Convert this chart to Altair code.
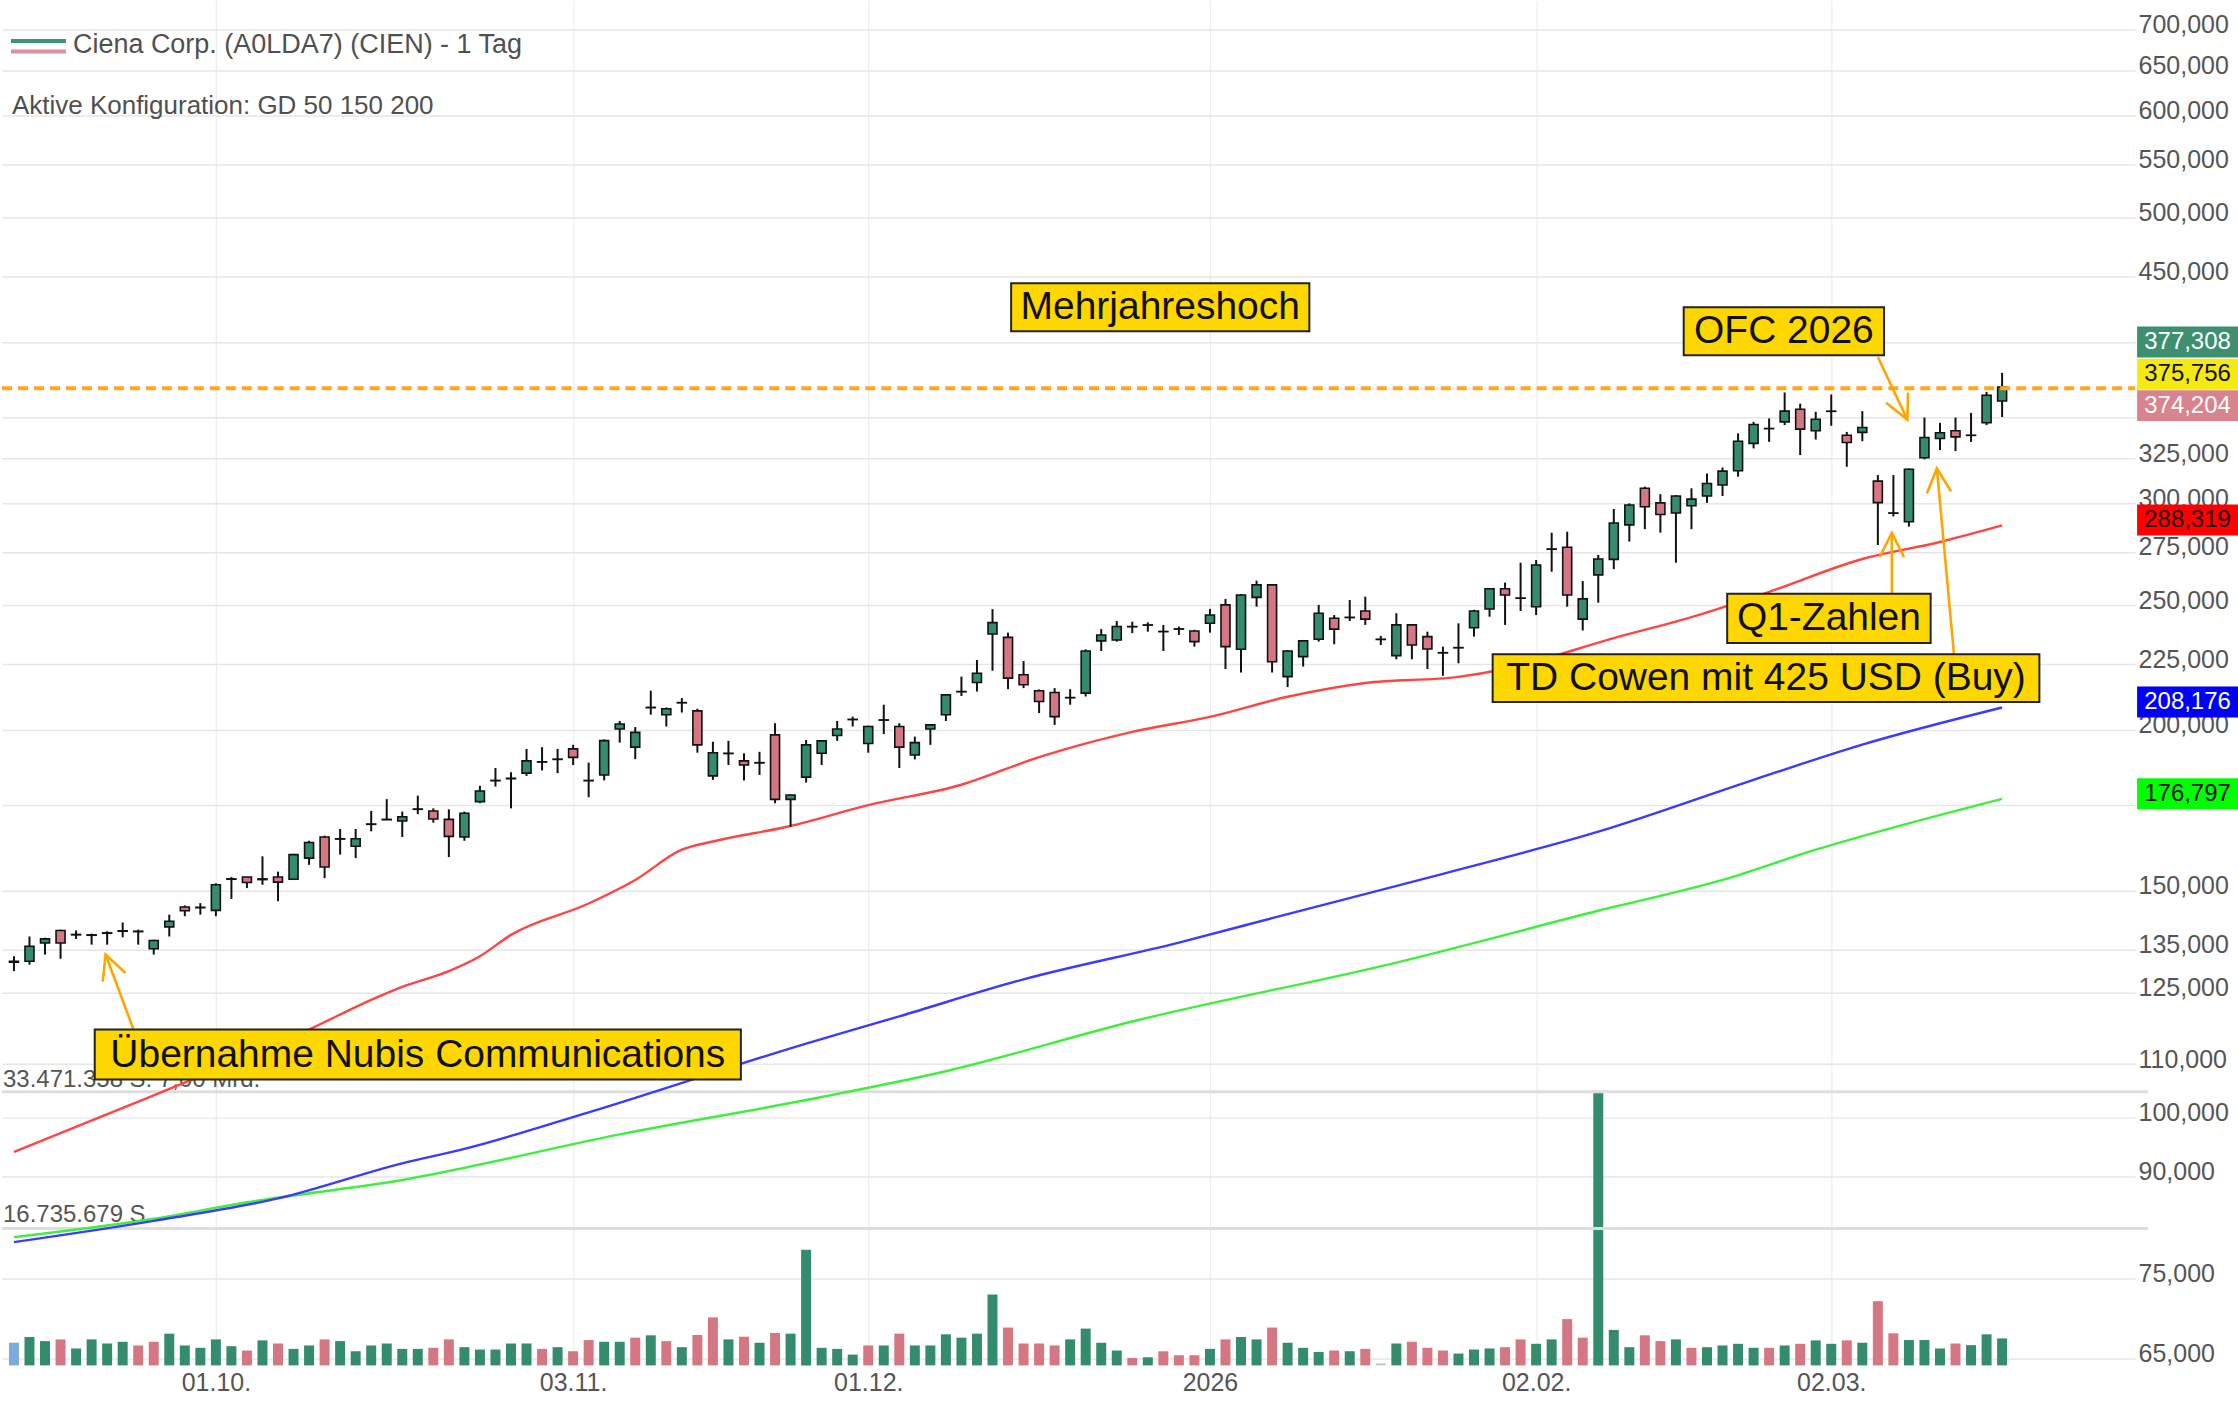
import math
import altair as alt
import pandas as pd

FONT = "Liberation Sans"
W, H = 2135, 1366

# ---------------- data ----------------
open_ = [132.0,132.2,136.6,139.7,138.6,138.5,139.0,139.5,139.5,135.2,
140.6,145.7,145.5,144.8,153.1,153.7,153.0,153.7,153.1,159.0,
165.1,164.5,162.4,168.9,170.3,169.9,173.5,173.0,170.4,165.1,
175.9,182.6,183.3,185.1,188.8,189.7,193.3,182.6,184.5,200.3,
193.9,208.1,205.5,209.9,206.9,184.2,191.7,189.2,188.5,198.2,
176.6,183.8,191.8,198.0,203.7,195.2,203.5,201.2,191.2,200.3,
205.5,214.1,217.7,237.4,236.0,220.7,214.5,213.8,211.8,213.6,
234.5,234.9,240.5,241.2,238.5,239.5,238.7,242.0,250.1,231.0,
253.5,259.2,220.0,228.0,235.2,244.2,244.5,247.4,235.1,228.4,
241.3,236.3,229.5,231.6,240.1,248.3,257.4,253.1,249.3,276.3,
277.3,243.8,263.9,271.3,288.6,308.1,300.2,294.8,298.6,303.9,
309.9,317.9,333.9,342.8,347.0,354.9,341.5,353.6,338.8,340.5,
312.1,294.7,290.2,325.4,336.8,341.5,338.7,346.4,360.2]

high = [133.4,138.2,137.9,139.9,139.7,138.9,139.5,141.7,139.9,137.4,
143.7,146.1,146.7,152.0,153.7,153.8,159.5,155.2,160.2,164.0,
165.5,167.5,167.5,173.0,176.7,172.8,177.8,173.8,173.5,172.8,
181.0,186.8,185.4,193.3,193.9,193.3,194.7,188.6,196.6,203.2,
201.0,214.5,208.2,211.7,207.7,195.8,196.1,191.8,192.3,202.4,
178.2,196.4,196.4,203.2,204.8,201.5,209.2,202.4,197.6,202.0,
213.2,220.0,226.6,248.2,238.0,226.2,215.0,215.5,215.1,231.0,
239.5,243.0,242.7,242.4,241.3,240.6,239.2,248.3,252.8,255.0,
261.2,259.5,230.7,234.9,250.1,245.6,252.3,253.8,236.6,246.4,
241.6,238.4,232.1,242.0,247.9,257.7,260.3,269.7,271.0,284.6,
285.1,261.0,273.5,296.9,299.9,309.0,304.9,304.3,308.1,316.4,
319.8,339.9,347.0,349.1,365.7,358.5,353.3,364.4,340.8,353.7,
315.5,315.5,319.2,349.7,346.4,349.7,352.6,366.1,378.8]

low = [129.9,131.4,133.8,132.8,137.6,136.2,136.2,138.0,136.2,133.8,
138.2,143.3,143.7,143.3,147.8,150.7,151.6,147.2,152.9,157.1,
153.4,160.0,159.0,166.8,170.2,165.1,172.0,169.4,159.3,164.0,
175.4,180.7,173.8,184.2,186.0,185.1,187.8,177.3,182.7,195.5,
189.8,205.5,201.2,206.3,192.0,182.9,187.8,182.7,184.5,175.4,
168.2,182.0,187.8,196.1,201.2,192.0,198.5,186.8,189.7,194.7,
203.2,212.5,214.2,222.3,215.1,215.5,206.1,201.8,209.2,212.3,
230.3,234.2,237.8,238.4,230.3,237.0,232.1,238.0,223.0,221.6,
249.3,221.6,215.9,224.0,234.2,233.1,243.0,241.3,232.8,226.9,
226.9,223.0,220.3,225.3,236.3,244.9,241.3,247.4,245.6,265.4,
249.3,238.9,251.1,266.6,280.1,286.4,284.6,269.7,286.4,300.2,
303.9,314.6,330.9,334.8,345.0,327.0,336.2,344.6,320.2,335.2,
278.4,293.0,287.7,324.5,329.9,329.3,334.8,345.0,350.0]

close = [132.2,135.8,137.6,136.6,138.7,138.6,139.1,139.6,139.4,137.2,
142.0,144.7,145.6,151.6,153.2,152.2,153.2,152.3,160.0,163.5,
156.5,164.6,164.6,169.0,170.4,171.2,173.6,170.5,165.3,172.3,
179.3,182.7,183.4,189.2,188.9,189.8,190.4,182.7,196.2,202.1,
199.1,208.2,207.7,210.0,194.7,192.0,191.8,187.8,188.6,176.6,
178.0,194.7,196.1,200.3,203.8,201.2,203.6,193.9,195.5,201.8,
212.9,214.2,221.3,242.3,219.4,216.8,210.4,204.8,211.9,230.3,
237.0,240.6,240.6,241.3,238.4,239.6,234.2,245.6,232.1,254.6,
259.2,225.9,230.3,234.5,246.4,239.5,244.6,243.8,235.2,241.3,
232.8,231.1,229.6,231.7,247.4,257.4,254.6,253.2,268.6,276.4,
254.6,252.8,271.5,289.6,299.0,298.1,294.0,303.9,302.2,310.8,
317.7,335.2,345.4,342.9,353.7,342.5,348.6,353.7,334.4,343.5,
300.3,294.8,318.8,337.4,340.3,337.8,338.8,363.9,369.3]

# volume in millions of shares
vol_mio = [2.77,3.47,2.97,3.18,2.07,3.18,2.68,2.89,2.44,2.89,
3.88,2.44,2.15,3.18,2.35,1.82,3.06,2.68,2.02,2.44,
3.18,2.97,1.73,2.44,2.68,2.02,2.02,2.15,3.18,2.23,
1.94,1.94,2.68,2.68,2.02,2.23,1.73,3.10,2.89,2.89,
3.39,3.68,2.97,2.23,3.72,5.87,3.18,3.51,2.77,3.97,
3.88,14.13,2.15,2.02,1.32,2.44,2.44,3.88,2.44,2.44,
3.80,3.39,3.88,8.67,4.63,2.68,2.68,2.44,3.18,4.50,
2.77,1.82,0.91,0.99,1.73,1.24,1.24,2.02,3.18,3.47,
3.18,4.63,2.77,2.15,1.65,1.82,1.73,2.02,0.25,2.68,
2.89,2.15,1.82,1.45,1.94,2.07,2.23,3.18,2.64,3.18,
5.66,3.39,33.471358,4.34,2.23,3.68,2.97,3.18,2.15,2.23,
2.44,2.64,2.15,2.15,2.44,2.64,3.06,2.64,3.06,2.77,
7.85,3.92,3.10,3.10,2.07,2.68,2.48,3.80,3.30]

vol_dir = ("b g g r g g g g r r g g g g g r g r g g r g g g g g g r r g "
           "g g g g r g r r g g r g r g r r g r g r g g g g g r g r g g "
           "g g g g r r r r g g g g r g r r r g r g g r g g g r g r n g "
           "r r r g g g r r g g r r g g g r r g r g g g g r g r g g r g "
           "r r g g g r g g g").split()

ma50_idx = [0, 9, 19, 23, 25, 28, 30, 32, 37, 40, 43, 45, 50, 55, 61, 66, 72, 77, 82, 87, 93, 96, 103, 108, 113, 119, 124, 128]
ma50_val = [94.0, 104.0, 117.0, 123.4, 126.3, 129.9, 133.4, 138.6, 146.6, 152.9, 161.4, 163.8, 168.4, 174.8, 181.3, 190.5, 199.3, 204.7, 212.2, 217.5, 219.9, 223.0, 235.7, 244.7, 256.0, 271.5, 279.9, 288.319]

ma150_idx = [0, 9, 17, 25, 29, 37, 51, 57, 65, 75, 81, 92, 102, 112, 119, 128]
ma150_val = [80.0, 83.1, 86.5, 92.1, 94.5, 100.9, 114.1, 119.8, 128.0, 136.7, 142.8, 154.6, 166.7, 182.9, 194.8, 208.176]

ma200_idx = [0, 9, 15, 25, 39, 52, 60, 72, 89, 102, 110, 116, 128]
ma200_val = [80.7, 83.4, 85.9, 89.4, 97.0, 103.7, 108.6, 118.7, 131.9, 144.7, 152.9, 161.4, 176.797]

tick_idx = [13, 36, 55, 77, 98, 117]
tick_lbl = ["01.10.", "03.11.", "01.12.", "2026", "02.02.", "02.03."]
price_ticks = [65, 75, 90, 100, 110, 125, 135, 150, 175, 200, 225, 250, 275,
               300, 325, 350, 400, 450, 500, 550, 600, 650, 700]
hidden_tick_labels = [175, 350, 400]   # covered by the price boxes in the reference

high_line = 368.5            # dashed "Mehrjahreshoch" line as drawn
vol_max = 33.471358          # Mio. Stück
vol_half = 16.735679
turnover_lbl = "7,00 Mrd."

ann_text = ["Mehrjahreshoch", "OFC 2026", "Q1-Zahlen",
            "TD Cowen mit 425 USD (Buy)", "Übernahme Nubis Communications"]
ann_i1 = [64.2, 107.5, 110.3, 95.2, 5.2]
ann_i2 = [83.4, 120.4, 123.4, 130.4, 46.8]
ann_top = [444.6, 425.9, 255.1, 229.0, 117.0]
ann_bot = [408.0, 390.9, 233.6, 210.2, 107.0]

arr_i1 = [7.7, 120.0, 120.9, 124.9]
arr_p1 = [117.0, 389.7, 255.1, 229.0]
arr_i2 = [5.9, 121.9, 120.9, 123.8]
arr_p2 = [133.8, 348.4, 284.5, 319.3]
arr_angle = [339.5, 154.8, 0, 355]

quote_val = [377.308, 375.756, 374.204, 288.319, 208.176, 176.797]
quote_fill = ["#3d8f6f", "#f4ea12", "#d9838f", "#ff0000", "#0000ff", "#00ff00"]
quote_txt = ["#ffffff", "#111111", "#ffffff", "#220000", "#ffffff", "#111111"]
quote_shift = [-33, -3, 26, -5.5, -5.5, -5]

# ---------------- frames ----------------
n = len(close)
idx = list(range(n))
cdf = pd.DataFrame({"i": idx, "o": open_, "h": high, "l": low, "c": close})
cdf["d"] = ["g" if c >= o else "r" for o, c in zip(open_, close)]
vdf = pd.DataFrame({"i": idx, "v": vol_mio, "d": vol_dir})

xs = alt.Scale(domain=[-0.448, 136.24], nice=False, zero=False)
ys = alt.Scale(type="log", domain=[64.16, 737.2], nice=False)
vs = alt.Scale(domain=[0, 166.87], nice=False, zero=True)
cs = alt.Scale(domain=["b", "g", "r", "n"], range=["#7ea9e3", "#358c6c", "#d47783", "#c8c8c8"])

x_expr = "{" + ",".join(f"'{i}':'{t}'" for i, t in zip(tick_idx, tick_lbl)) + "}[datum.value]"
hide_cond = " || ".join(f"datum.value == {v}" for v in hidden_tick_labels)
y_expr = f"({hide_cond}) ? '' : replace(format(datum.value, '.3f'), '.', ',')"

x_axis = alt.Axis(values=tick_idx, labelExpr=x_expr, grid=True, gridColor="#ececec",
                  gridWidth=1.2, ticks=False, domain=False, labelPadding=5,
                  labelFontSize=25, labelColor="#555555", labelFont=FONT, title=None)
y_axis = alt.Axis(orient="right", values=price_ticks, labelExpr=y_expr,
                  grid=True, gridColor="#e6e6e6", gridWidth=1.5, ticks=False, domain=False,
                  labelPadding=3, labelFontSize=25, labelColor="#555555", labelFont=FONT,
                  labelOffset=-5, labelOverlap=False, title=None)


def X(f):
    return alt.X(f, scale=xs, axis=x_axis)


def Y(f):
    return alt.Y(f, scale=ys, axis=y_axis)


def V(f):
    return alt.Y(f, scale=vs, axis=None)


# ---------------- volume panel ----------------
vol_bars = alt.Chart(vdf).mark_bar(width=10).encode(
    x=X("i:Q"), y=V("v:Q"), color=alt.Color("d:N", scale=cs, legend=None))
seps = alt.Chart(pd.DataFrame({"v": [vol_max, vol_half]})).mark_rule(
    color="#dedede", strokeWidth=3).encode(y=V("v:Q"), x=alt.value(0), x2=alt.value(W + 13))
lbl_max = f"{round(vol_max * 1e6):,}".replace(",", ".") + " S. " + turnover_lbl
lbl_half = f"{round(vol_half * 1e6):,}".replace(",", ".") + " S"
vt1 = alt.Chart(pd.DataFrame({"v": [vol_max], "t": [lbl_max]})).mark_text(
    align="left", fontSize=24, color="#555555", dy=-12).encode(x=alt.value(1), y=V("v:Q"), text="t:N")
vt2 = alt.Chart(pd.DataFrame({"v": [vol_half], "t": [lbl_half]})).mark_text(
    align="left", fontSize=24, color="#555555", dy=-14).encode(x=alt.value(1), y=V("v:Q"), text="t:N")
vol_group = alt.layer(vol_bars, seps, vt1, vt2)

# ---------------- price panel ----------------
layers = []
for ii, vv, col in [(ma200_idx, ma200_val, "#3cf03c"), (ma150_idx, ma150_val, "#3b3bff"),
                    (ma50_idx, ma50_val, "#ff4444")]:
    layers.append(alt.Chart(pd.DataFrame({"i": ii, "p": vv})).mark_line(
        color=col, strokeWidth=2.4, interpolate="monotone").encode(x=X("i:Q"), y=Y("p:Q")))

layers.append(alt.Chart(cdf).mark_rule(color="#111111", strokeWidth=2).encode(
    x=X("i:Q"), y=Y("l:Q"), y2="h:Q"))
layers.append(alt.Chart(cdf).mark_bar(width=9, stroke="#111111", strokeWidth=1.6).encode(
    x=X("i:Q"), y=Y("o:Q"), y2="c:Q", color=alt.Color("d:N", scale=cs, legend=None)))

layers.append(alt.Chart(pd.DataFrame({"p": [high_line]})).mark_rule(
    color="#ffa91a", strokeWidth=4, strokeDash=[10, 6]).encode(
    y=Y("p:Q"), x=alt.value(0), x2=alt.value(W)))

adf = pd.DataFrame({"x1": ann_i1, "x2": ann_i2, "t": ann_top, "b": ann_bot, "txt": ann_text})
adf["xm"] = (adf["x1"] + adf["x2"]) / 2
adf["ym"] = [math.sqrt(a * b) for a, b in zip(ann_top, ann_bot)]

rdf = pd.DataFrame({"x1": arr_i1, "p1": arr_p1, "x2": arr_i2, "p2": arr_p2, "a": arr_angle})
layers.append(alt.Chart(rdf).mark_rule(color="#ffa500", strokeWidth=2.6).encode(
    x=X("x1:Q"), x2="x2:Q", y=Y("p1:Q"), y2="p2:Q"))
layers.append(alt.Chart(rdf).mark_point(
    shape="M-0.45,0.9L0,0L0.45,0.9", size=2916, filled=False, color="#ffa500",
    strokeWidth=2.6, opacity=1).encode(
    x=X("x2:Q"), y=Y("p2:Q"), angle=alt.Angle("a:Q", scale=None)))

layers.append(alt.Chart(adf).mark_rect(fill="#ffd700", stroke="#222222", strokeWidth=2).encode(
    x=X("x1:Q"), x2="x2:Q", y=Y("t:Q"), y2="b:Q"))
layers.append(alt.Chart(adf).mark_text(fontSize=39, color="#111111", font=FONT).encode(
    x=X("xm:Q"), y=Y("ym:Q"), text="txt:N"))

# header
layers.append(alt.Chart(pd.DataFrame({"t": ["Ciena Corp. (A0LDA7) (CIEN) - 1 Tag"]})).mark_text(
    align="left", fontSize=27, color="#505050").encode(x=alt.value(71), y=alt.value(44), text="t:N"))
layers.append(alt.Chart(pd.DataFrame({"t": ["Aktive Konfiguration: GD 50 150 200"]})).mark_text(
    align="left", fontSize=26, color="#505050").encode(x=alt.value(10), y=alt.value(105), text="t:N"))
layers.append(alt.Chart(pd.DataFrame({"t": ["a"]})).mark_rule(color="#3f9474", strokeWidth=4).encode(
    x=alt.value(9), x2=alt.value(64), y=alt.value(40.5)))
layers.append(alt.Chart(pd.DataFrame({"t": ["a"]})).mark_rule(color="#dd8f9b", strokeWidth=4).encode(
    x=alt.value(9), x2=alt.value(64), y=alt.value(51)))

# price boxes on the axis
RECT = "M-1,-0.307L1,-0.307L1,0.307L-1,0.307Z"
for val, fc, tc, sh in zip(quote_val, quote_fill, quote_txt, quote_shift):
    qdf = pd.DataFrame({"p": [val], "t": [f"{val:.3f}".replace(".", ",")]})
    layers.append(alt.Chart(qdf).mark_point(
        shape=RECT, size=10201, filled=True, color=fc, opacity=1, yOffset=sh).encode(
        x=alt.value(2187.5), y=Y("p:Q")))
    layers.append(alt.Chart(qdf).mark_text(fontSize=24, color=tc, dy=sh).encode(
        x=alt.value(2187.5), y=Y("p:Q"), text="t:N"))

price_group = alt.layer(*layers)

chart = alt.layer(vol_group, price_group).resolve_scale(y="independent").properties(
    width=W, height=H, padding=0, background="white"
).configure(font=FONT).configure_view(stroke=None)

chart.save("out.html", embed_options={"renderer": "svg", "actions": False})
